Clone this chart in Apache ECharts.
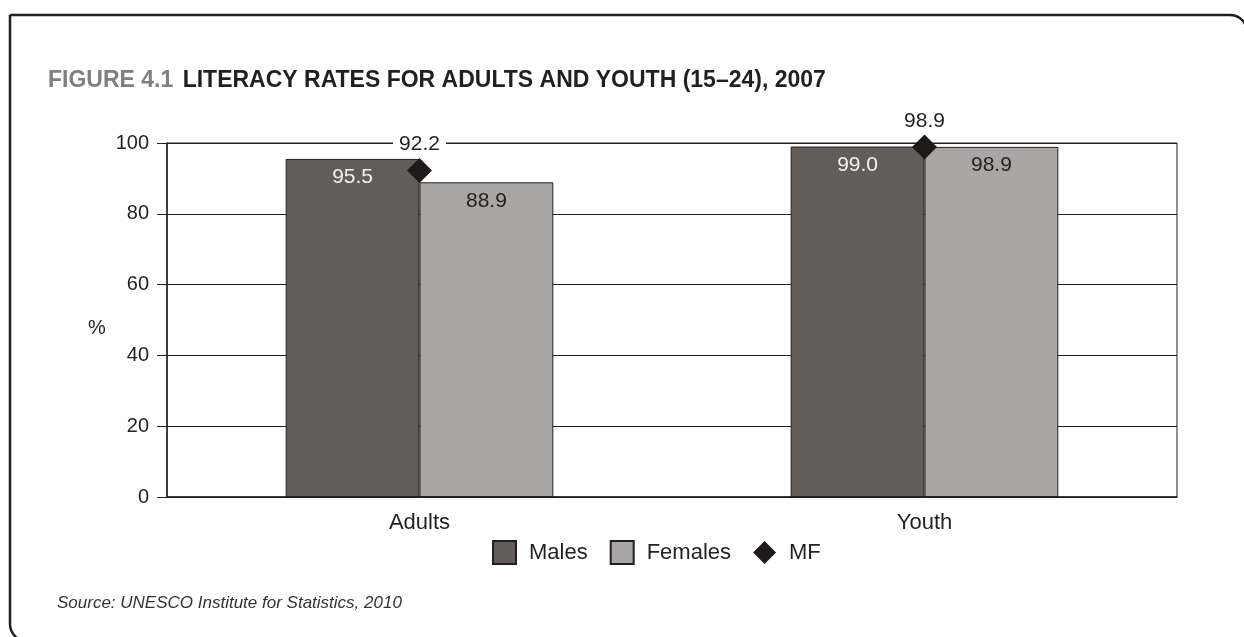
<!DOCTYPE html>
<html><head><meta charset="utf-8">
<script src="https://cdn.jsdelivr.net/npm/echarts@6/dist/echarts.min.js"></script>
<style>html,body{margin:0;padding:0;background:#fff}#c{width:1244px;height:637px}</style>
</head><body><div id="c"></div>
<script>
const categories = ['Adults', 'Youth'];
const males = [95.5, 99.0];
const females = [88.9, 98.9];
const mf = [92.2, 98.9];
const yTicks = [0, 20, 40, 60, 80, 100];

const FONT = '"Liberation Sans", Arial, sans-serif';
const INK = '#231f20';
const chart = echarts.init(document.getElementById('c'), null, {renderer: 'canvas'});
chart.setOption({
  animation: false,
  backgroundColor: '#fff',
  textStyle: {fontFamily: FONT},
  title: {
    left: 43, top: 64, padding: 5,
    text: '{a|FIGURE 4.1} {b|LITERACY RATES FOR ADULTS AND YOUTH (15–24), 2007}',
    textStyle: {
      fontSize: 23, fontWeight: 'bold',
      rich: {
        a: {fontFamily: FONT, fontWeight: 'bold', fontSize: 23, color: '#808080'},
        b: {fontFamily: FONT, fontWeight: 'bold', fontSize: 23, color: INK, padding: [0, 0, 0, 3]}
      }
    }
  },
  graphic: [
    {type: 'rect', shape: {x: 10, y: 15, width: 1237, height: 626, r: [0, 17, 0, 17]},
     style: {fill: 'none', stroke: INK, lineWidth: 2.5}, silent: true},
    {type: 'text', x: 97, y: 328,
     style: {text: '%', font: '20px ' + FONT, fill: INK, align: 'center', verticalAlign: 'middle'}},
    {type: 'text', left: 57, top: 595,
     style: {text: 'Source: UNESCO Institute for Statistics, 2010', font: 'italic 17px ' + FONT, fill: '#333'}}
  ],
  grid: {left: 167, right: 67, top: 143, bottom: 140, show: true, borderColor: INK, borderWidth: 1},
  legend: {
    top: 540, left: 492, padding: 0,
    itemWidth: 23, itemHeight: 23, itemGap: 22,
    textStyle: {fontSize: 22, color: INK, fontFamily: FONT, padding: [0, 0, 0, 8]},
    data: [{name: 'Males', icon: 'rect'}, {name: 'Females', icon: 'rect'}, {name: 'MF', icon: 'diamond'}]
  },
  xAxis: {
    type: 'category', data: categories,
    axisLine: {lineStyle: {color: INK, width: 1.5}},
    axisTick: {show: false},
    axisLabel: {fontSize: 22, color: INK, margin: 15, fontFamily: FONT}
  },
  yAxis: {
    type: 'value', min: 0, max: 100, interval: 20,
    axisLine: {show: true, lineStyle: {color: INK, width: 1.5}},
    axisTick: {show: true, length: 10, lineStyle: {color: INK}},
    splitLine: {lineStyle: {color: INK, width: 1}},
    axisLabel: {fontSize: 20, color: INK, margin: 18, fontFamily: FONT,
      formatter: v => yTicks.includes(v) ? String(v) : ''}
  },
  series: [
    {name: 'Males', type: 'bar', data: males, barGap: '0%', barCategoryGap: '47%',
     itemStyle: {color: '#625d59', borderColor: INK, borderWidth: 1},
     label: {show: true, position: 'insideTop', distance: 8, fontSize: 21, color: '#f2f2f2', fontFamily: FONT,
       formatter: p => p.value.toFixed(1)}},
    {name: 'Females', type: 'bar', data: females,
     itemStyle: {color: '#a8a7a5', borderColor: INK, borderWidth: 1},
     label: {show: true, position: 'insideTop', distance: 8, fontSize: 21, color: INK, fontFamily: FONT,
       formatter: p => p.value.toFixed(1)}},
    {name: 'MF', type: 'scatter', data: mf, symbol: 'diamond', symbolSize: 25, z: 5,
     itemStyle: {color: '#1e1a1a', opacity: 1},
     label: {show: true, position: 'top', distance: 3, fontSize: 21, color: INK, fontFamily: FONT,
       backgroundColor: '#fff', padding: [0, 6],
       formatter: p => p.value.toFixed(1)}}
  ]
});
</script></body></html>
